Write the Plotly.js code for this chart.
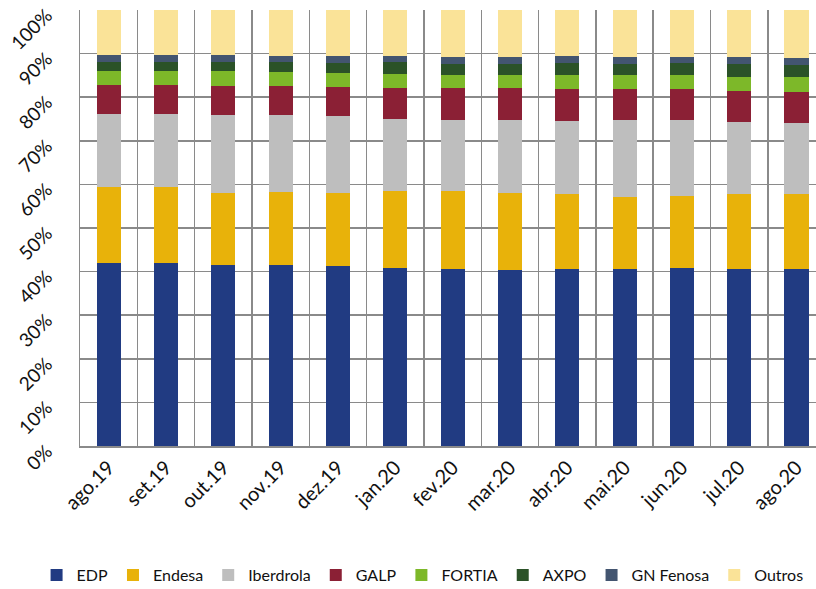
<!DOCTYPE html>
<html>
<head>
<meta charset="utf-8">
<script src="https://cdn.plot.ly/plotly-3.0.1.min.js"></script>
<style>
html,body{margin:0;padding:0;overflow:hidden;background:#fff;}
#chart{width:816px;height:589px;}
</style>
</head>
<body>
<div id="chart"></div>
<script>
const months = ["ago.19","set.19","out.19","nov.19","dez.19","jan.20","fev.20","mar.20","abr.20","mai.20","jun.20","jul.20","ago.20"];

const edp       = [41.9, 41.9, 41.6, 41.5, 41.3, 40.8, 40.7, 40.4, 40.6, 40.7, 40.9, 40.7, 40.7];
const endesa    = [17.4, 17.4, 16.5, 16.7, 16.7, 17.7, 17.7, 17.7, 17.3, 16.5, 16.5, 17.1, 17.1];
const iberdrola = [16.8, 16.8, 17.8, 17.8, 17.6, 16.4, 16.3, 16.7, 16.7, 17.5, 17.3, 16.4, 16.2];
const galp      = [6.7, 6.7, 6.7, 6.6, 6.7, 7.3, 7.3, 7.2, 7.3, 7.1, 7.1, 7.2, 7.2];
const fortia    = [3.2, 3.2, 3.3, 3.2, 3.2, 3.2, 3.1, 3.2, 3.3, 3.4, 3.4, 3.3, 3.4];
const axpo      = [2.0, 2.0, 2.1, 2.2, 2.4, 2.6, 2.6, 2.5, 2.6, 2.5, 2.7, 2.9, 2.8];
const gnFenosa  = [1.7, 1.7, 1.6, 1.5, 1.5, 1.5, 1.6, 1.6, 1.7, 1.6, 1.4, 1.6, 1.6];
const outros    = [10.3, 10.3, 10.4, 10.5, 10.6, 10.5, 10.7, 10.7, 10.5, 10.7, 10.7, 10.8, 11.0];

const seriesNames  = ["EDP","Endesa","Iberdrola","GALP","FORTIA","AXPO","GN Fenosa","Outros"];
const seriesValues = [edp, endesa, iberdrola, galp, fortia, axpo, gnFenosa, outros];
const seriesColors = ["#213b82","#e8b20a","#bebebe","#8b2035","#7db829","#2b5228","#435570","#fae398"];

const FONT = "Lato, 'Open Sans', sans-serif";

const traces = seriesNames.map((n, i) => ({
  type: "bar",
  name: n,
  x: months,
  y: seriesValues[i],
  marker: {color: seriesColors[i], line: {width: 0}},
  hoverinfo: "name+y"
}));

const layout = {
  width: 816,
  height: 589,
  barmode: "stack",
  bargap: 0.58,
  paper_bgcolor: "#ffffff",
  plot_bgcolor: "#ffffff",
  margin: {l: 80, r: 0, t: 10, b: 143, autoexpand: false},
  font: {family: FONT, size: 18, color: "#111111"},
  showlegend: true,
  legend: {
    orientation: "h",
    x: -0.059, xanchor: "left",
    y: -0.296, yanchor: "middle",
    font: {family: FONT, size: 16, color: "#111111"},
    traceorder: "normal",
    itemwidth: 30,
    tracegroupgap: 0
  },
  xaxis: {
    type: "category",
    range: [-0.5, 12.34],
    tickson: "boundaries",
    showgrid: true,
    gridcolor: "#8a8a8a",
    gridwidth: 1.5,
    showline: true,
    linecolor: "#8a8a8a",
    linewidth: 2,
    ticks: "outside",
    ticklen: 19,
    tickcolor: "rgba(255,255,255,0)",
    tickangle: -45,
    tickfont: {family: FONT, size: 20, color: "#111111"},
    fixedrange: true
  },
  yaxis: {
    range: [0, 100],
    dtick: 10,
    tick0: 0,
    ticksuffix: "%",
    showgrid: true,
    gridcolor: "#8a8a8a",
    gridwidth: 1.5,
    zeroline: false,
    showline: true,
    linecolor: "#8a8a8a",
    linewidth: 1.5,
    ticks: "",
    tickangle: -45,
    ticklabelstandoff: 28,
    ticklabelshift: 3,
    ticklabeloverflow: "allow",
    tickfont: {family: FONT, size: 19, color: "#111111"},
    fixedrange: true
  }
};

Plotly.newPlot("chart", traces, layout, {displayModeBar: false, staticPlot: true});
</script>
</body>
</html>
